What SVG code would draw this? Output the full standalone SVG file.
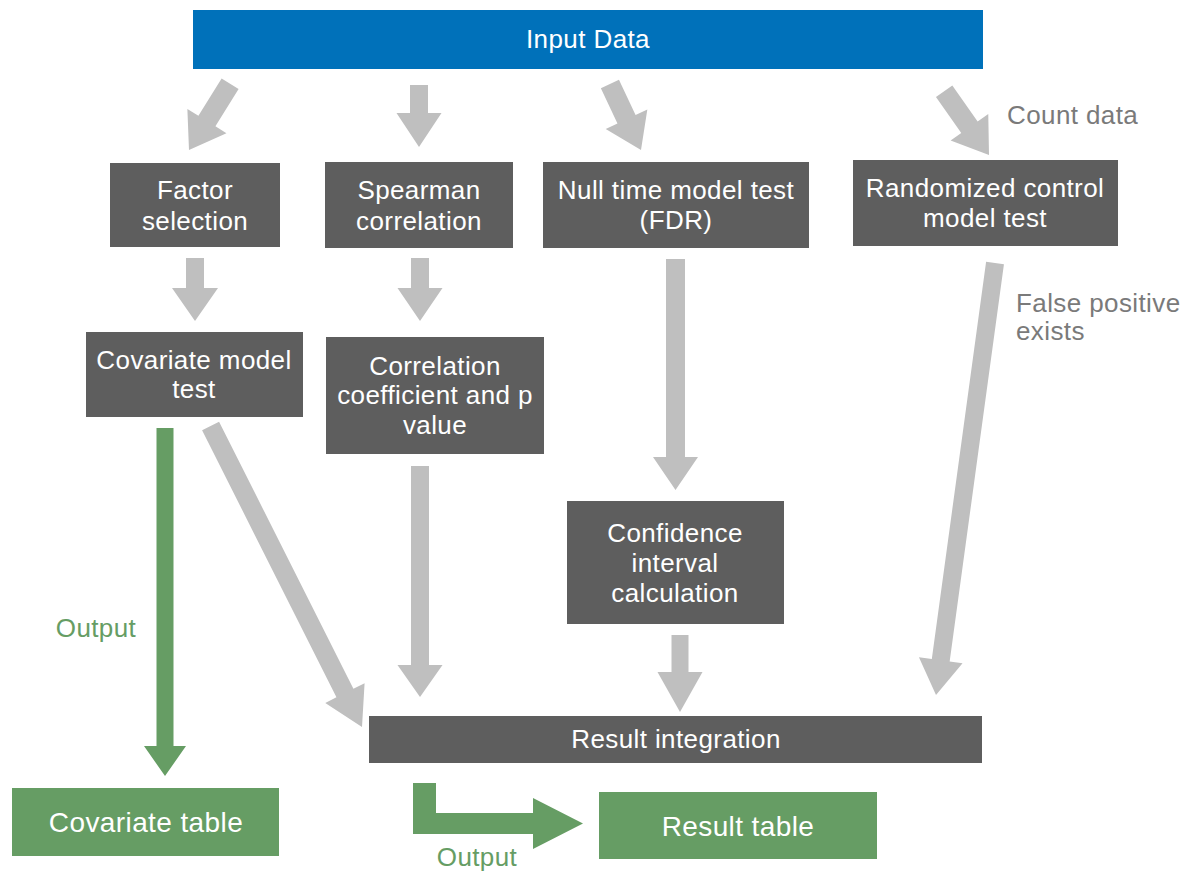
<svg xmlns="http://www.w3.org/2000/svg" width="1191" height="872" viewBox="0 0 1191 872">
<style>
text{font-family:"Liberation Sans",Arial,Helvetica,sans-serif;font-size:26px;letter-spacing:0.4px}
.n rect{fill:#5e5e5e}
.n text{fill:#ffffff;text-anchor:middle}
.g rect{fill:#669d64}
.g text{fill:#ffffff;text-anchor:middle;font-size:28px}
.arr{fill:#bfbfbf}
.garr{fill:#669d64}
.lbl{fill:#7a7a7a}
.glbl{fill:#669d64}
</style>
<rect width="1191" height="872" fill="#ffffff"/>

<g id="connectors">
  <!-- Input -> Factor selection -->
  <path class="arr" transform="translate(189,150) rotate(31.8)" d="M-10,-78 L10,-78 L10,-34 L23,-34 L0,0 L-23,-34 L-10,-34 Z"/>
  <!-- Input -> Spearman -->
  <path class="arr" transform="translate(419,147)" d="M-9,-62 L9,-62 L9,-34 L22.5,-34 L0,0 L-22.5,-34 L-9,-34 Z"/>
  <!-- Input -> Null time -->
  <path class="arr" transform="translate(641,150) rotate(-25.2)" d="M-10,-73 L10,-73 L10,-34 L23,-34 L0,0 L-23,-34 L-10,-34 Z"/>
  <!-- Input -> Randomized -->
  <path class="arr" transform="translate(989,155) rotate(-35.1)" d="M-10,-78 L10,-78 L10,-34 L23,-34 L0,0 L-23,-34 L-10,-34 Z"/>
  <!-- Factor -> Covariate model test -->
  <path class="arr" transform="translate(195,321)" d="M-9,-63 L9,-63 L9,-33 L23,-33 L0,0 L-23,-33 L-9,-33 Z"/>
  <!-- Spearman -> Correlation -->
  <path class="arr" transform="translate(420,321)" d="M-9,-63 L9,-63 L9,-33 L22.5,-33 L0,0 L-22.5,-33 L-9,-33 Z"/>
  <!-- Null time -> Confidence -->
  <path class="arr" transform="translate(675.5,490)" d="M-9.5,-231 L9.5,-231 L9.5,-33 L22.5,-33 L0,0 L-22.5,-33 L-9.5,-33 Z"/>
  <!-- Randomized -> Result integration -->
  <path class="arr" transform="translate(936,695) rotate(7.78)" d="M-9,-436 L9,-436 L9,-35 L22,-35 L0,0 L-22,-35 L-9,-35 Z"/>
  <!-- Covariate model test -> Result integration -->
  <path class="arr" transform="translate(362,727) rotate(-26.7)" d="M-9.5,-337 L9.5,-337 L9.5,-38 L22,-38 L0,0 L-22,-38 L-9.5,-38 Z"/>
  <!-- Correlation -> Result integration -->
  <path class="arr" transform="translate(420,697)" d="M-9,-231 L9,-231 L9,-32 L22.5,-32 L0,0 L-22.5,-32 L-9,-32 Z"/>
  <!-- Confidence -> Result integration -->
  <path class="arr" transform="translate(680,712)" d="M-8.5,-77 L8.5,-77 L8.5,-40 L22.5,-40 L0,0 L-22.5,-40 L-8.5,-40 Z"/>
  <!-- Covariate model test -> Covariate table (green) -->
  <path class="garr" transform="translate(165,776)" d="M-8.5,-348 L8.5,-348 L8.5,-30 L21,-30 L0,0 L-21,-30 L-8.5,-30 Z"/>
  <!-- Result integration -> Result table (green elbow) -->
  <path class="garr" d="M413,783 H436 V813 H533 V798 L583,823.5 L533,849 V834 H413 Z"/>
</g>

<g id="labels">
  <text class="lbl" x="1007" y="124">Count data</text>
  <text class="lbl" x="1016" y="312">False positive</text>
  <text class="lbl" x="1016" y="340">exists</text>
  <text class="glbl" x="96" y="637" text-anchor="middle">Output</text>
  <text class="glbl" x="477" y="866" text-anchor="middle">Output</text>
</g>

<g id="input-data">
  <rect x="193" y="10" width="790" height="59" fill="#0071ba"/>
  <text x="588" y="48" fill="#ffffff" text-anchor="middle" font-size="27">Input Data</text>
</g>

<g id="factor-selection" class="n">
  <rect x="110" y="163" width="170" height="84"/>
  <text x="195" y="199">Factor</text>
  <text x="195" y="230">selection</text>
</g>

<g id="spearman-correlation" class="n">
  <rect x="325" y="162" width="188" height="86"/>
  <text x="419" y="199">Spearman</text>
  <text x="419" y="230">correlation</text>
</g>

<g id="null-time-model-test" class="n">
  <rect x="543" y="162" width="266" height="86"/>
  <text x="676" y="199">Null time model test</text>
  <text x="676" y="229">(FDR)</text>
</g>

<g id="randomized-control-model-test" class="n">
  <rect x="853" y="160" width="265" height="86"/>
  <text x="985" y="197">Randomized control</text>
  <text x="985" y="227">model test</text>
</g>

<g id="covariate-model-test" class="n">
  <rect x="86" y="332" width="217" height="85"/>
  <text x="194" y="369">Covariate model</text>
  <text x="194" y="398">test</text>
</g>

<g id="correlation-coefficient" class="n">
  <rect x="326" y="337" width="218" height="117"/>
  <text x="435" y="375">Correlation</text>
  <text x="435" y="404">coefficient and p</text>
  <text x="435" y="434">value</text>
</g>

<g id="confidence-interval" class="n">
  <rect x="567" y="501" width="217" height="123"/>
  <text x="675" y="542">Confidence</text>
  <text x="675" y="572">interval</text>
  <text x="675" y="602">calculation</text>
</g>

<g id="result-integration" class="n">
  <rect x="369" y="716" width="613" height="47"/>
  <text x="676" y="748">Result integration</text>
</g>

<g id="covariate-table" class="g">
  <rect x="12" y="788" width="267" height="68"/>
  <text x="146" y="832">Covariate table</text>
</g>

<g id="result-table" class="g">
  <rect x="599" y="792" width="278" height="67"/>
  <text x="738" y="836">Result table</text>
</g>
</svg>
